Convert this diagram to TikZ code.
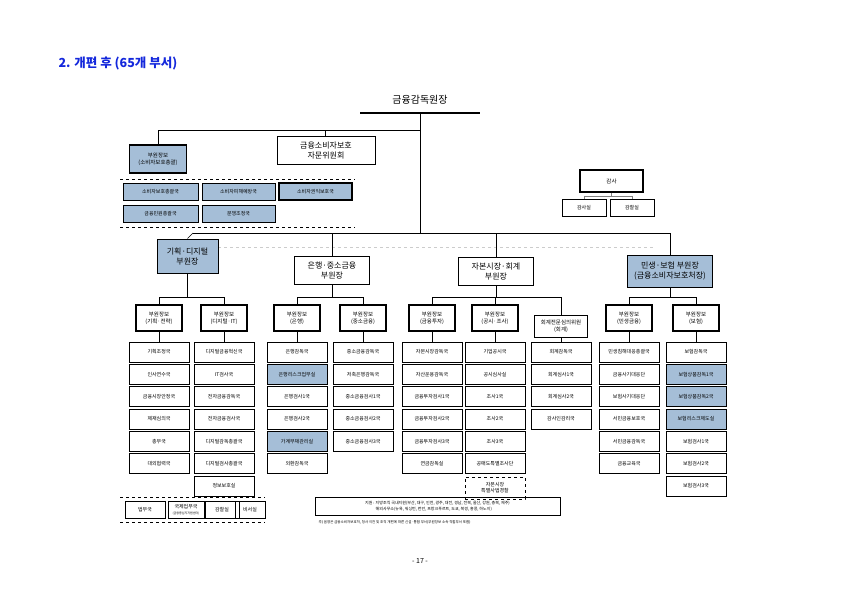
\documentclass[tikz,border=0pt]{standalone}
\usepackage{fontspec}
\setmainfont{Noto Sans CJK KR}
\usetikzlibrary{positioning}
\definecolor{fssblue}{RGB}{165,190,215}
\definecolor{titleblue}{RGB}{20,40,220}

\tikzset{
    dept/.style={draw, line width=0.5pt, minimum width=60pt, minimum height=20pt, inner sep=1pt, font=\fontsize{5}{6}\selectfont},
    hd/.style={draw, line width=1.3pt, minimum width=46pt, minimum height=26pt, inner sep=1pt, align=center, font=\fontsize{5.5}{7}\selectfont},
    dep/.style={draw, line width=0.4pt, minimum width=75pt, minimum height=28pt, inner sep=1pt, align=center, font=\fontsize{8}{10}\selectfont},
    blue/.style={fill=fssblue},
    small/.style={draw, line width=0.5pt, minimum height=17pt, inner sep=1pt, font=\fontsize{5}{6}\selectfont},
}

\begin{document}
\begin{tikzpicture}[x=1pt, y=-1pt, line width=0.6pt]
    \useasboundingbox (0,0) rectangle (841,595);

    \node[anchor=west, text=titleblue, font=\fontsize{12.5}{14}\selectfont\bfseries] (title) at (55,63) {2. 개편 후 (65개 부서)};

    % 원장
    \node[font=\fontsize{10}{12}\selectfont] (head) at (420,100) {금융감독원장};
    \draw[line width=1.5pt] (360,113) -- (480,113);
    \coordinate (hbot) at (420,113);
    \coordinate (hmid) at (420,130);
    \coordinate (hlow) at (420,233);
    \draw (hbot) -- (hlow);
    \draw (hmid) -- (158,130);
    \draw (325,130) -- (325,136);
    \draw (158,130) -- (158,145);

    \node[hd, blue, minimum width=57pt, minimum height=28pt] (cpb) at (158,159) {부원장보\\(소비자보호총괄)};
    \node[dep, minimum width=98pt] (cmt) at (326,150) {금융소비자보호\\자문위원회};

    \draw[dashed] (120,179) -- (355,179) (120,227) -- (355,227);
    \node[small, blue, minimum width=75pt] (c1) at (160.5,191.5) {소비자보호총괄국};
    \node[small, blue, minimum width=73pt] (c2) at (238.5,191.5) {소비자피해예방국};
    \node[small, blue, minimum width=73pt, line width=1.2pt] (c3) at (315.5,191.5) {소비자권익보호국};
    \node[small, blue, minimum width=75pt] (c4) at (160.5,213.5) {금융민원총괄국};
    \node[small, blue, minimum width=73pt] (c5) at (238.5,213.5) {분쟁조정국};

    % 감사
    \node[hd, minimum width=63pt, minimum height=22pt] (audit) at (611.5,181) {감사};
    \node[small, minimum width=44pt] (aud1) at (584,208) {감사실};
    \node[small, minimum width=44pt] (aud2) at (632,208) {감찰실};
    \draw[gray] (audit.south) -- (611.5,196) (584,196) -- (632,196) (584,196) -- (aud1.north) (632,196) -- (aud2.north);

    % 부원장
    \draw (193,233) -- (670,233);
    \draw[gray!40, dashed] (218,247) -- (655,247);
    \node[dep, blue, minimum width=61pt, minimum height=34pt, line width=1pt] (d1) at (187.5,256) {기획·디지털\\부원장};
    \node[dep, line width=0.8pt] (d2) at (332,270) {은행·중소금융\\부원장};
    \node[dep, line width=0.8pt] (d3) at (496,271) {자본시장·회계\\부원장};
    \node[dep, blue, minimum width=85pt, minimum height=32pt, line width=1pt] (d4) at (670,271) {민생·보험 부원장\\(금융소비자보호처장)};
    \draw (193,233) -- (d1.north);
    \draw (332,233) -- (d2.north);
    \draw (496,233) -- (d3.north);
    \draw (670,233) -- (d4.north);

    % 부원장보
    \node[hd] (p1) at (159,318) {부원장보\\(기획·전략)};
    \node[hd] (p2) at (224,318) {부원장보\\(디지털·IT)};
    \node[hd] (p3) at (297,318) {부원장보\\(은행)};
    \node[hd] (p4) at (363,318) {부원장보\\(중소금융)};
    \node[hd] (p5) at (432,318) {부원장보\\(금융투자)};
    \node[hd] (p6) at (495,318) {부원장보\\(공시·조사)};
    \node[hd, line width=0.8pt, minimum width=53pt, minimum height=22pt] (p7) at (561,326) {회계전문심의위원\\(회계)};
    \node[hd] (p8) at (629,318) {부원장보\\(민생금융)};
    \node[hd] (p9) at (696,318) {부원장보\\(보험)};

    \draw (d1.south) -- (187.5,297) (159,297) -- (224,297) (159,297) -- (p1.north) (224,297) -- (p2.north);
    \draw (d2.south) -- (332,297) (297,297) -- (363,297) (297,297) -- (p3.north) (363,297) -- (p4.north);
    \draw (d3.south) -- (496,297) (432,297) -- (561,297) (432,297) -- (p5.north) (495,297) -- (p6.north) (561,297) -- (p7.north);
    \draw (d4.south) -- (670,297) (629,297) -- (696,297) (629,297) -- (p8.north) (696,297) -- (p9.north);

    % 부서
    \foreach \col/\xx/\list in {
        1/159/{기획조정국,인사연수국,금융시장안정국,제재심의국,총무국,대외협력국},
        2/224/{디지털금융혁신국,IT검사국,전자금융감독국,전자금융검사국,디지털감독총괄국,디지털검사총괄국,정보보호실},
        3/297/{은행감독국,은행리스크업무실,은행검사1국,은행검사2국,가계부채관리실,외환감독국},
        4/363/{중소금융감독국,저축은행감독국,중소금융검사1국,중소금융검사2국,중소금융검사3국},
        5/432/{자본시장감독국,자산운용감독국,금융투자검사1국,금융투자검사2국,금융투자검사3국,연금감독실},
        6/495/{기업공시국,공시심사실,조사1국,조사2국,조사3국,공매도특별조사단},
        7/561/{회계감독국,회계심사1국,회계심사2국,감사인감리국},
        8/629/{민생침해대응총괄국,금융사기대응단,보험사기대응단,서민금융보호국,서민금융감독국,금융교육국},
        9/696/{보험감독국,보험상품감독1국,보험상품감독2국,보험리스크제도실,보험검사1국,보험검사2국,보험검사3국}}
    {
        \foreach \name [count=\r] in \list {
            \node[dept] (u\col-\r) at (\xx,{352+22.3*(\r-1)}) {\name};
        }
    }
    \foreach \n in {3-2,3-5,9-2,9-3,9-4} {
        \node[dept, blue] at (u\n) {};
    }
    \node[dept] at (u3-2) {은행리스크업무실};
    \node[dept] at (u3-5) {가계부채관리실};
    \node[dept] at (u9-2) {보험상품감독1국};
    \node[dept] at (u9-3) {보험상품감독2국};
    \node[dept] at (u9-4) {보험리스크제도실};

    \foreach \col/\top in {1/p1,2/p2,3/p3,4/p4,5/p5,6/p6,7/p7,8/p8,9/p9} {
        \draw (\top.south) -- (u\col-1.north);
    }
    \node[dept, dashed, minimum height=22pt, align=center] (u6-7) at (495,{352+22.3*6+2}) {자본시장\\특별사법경찰};

    % 하단
    \draw[dashed] (120,497) -- (265,497) (120,522) -- (265,522);
    \node[small, minimum width=40pt] (b1) at (145,509.5) {법무국};
    \node[small, minimum width=36pt, align=center] (b2) at (186,509.5) {국제업무국\\{\fontsize{3}{4}\selectfont (금융중심지지원센터)}};
    \node[small, minimum width=34pt] (b3) at (222,509.5) {감찰실};
    \node[small, minimum width=30pt] (b4) at (250,509.5) {비서실};

    \node[draw, minimum width=245pt, minimum height=18pt, align=left, font=\fontsize{4}{5.5}\selectfont] (note) at (437.5,506) {지원 : 지방조직 국내지원(부산, 대구, 인천, 광주, 대전, 경남, 전북, 울산, 강원, 충북, 제주)\\\phantom{지원 : }해외사무소(뉴욕, 워싱턴, 런던, 프랑크푸르트, 도쿄, 북경, 홍콩, 하노이)};
    \node[font=\fontsize{3.5}{4.5}\selectfont, anchor=west] (fn) at (315,522) {주) 음영은 금융소비자보호처, 청사 이전 및 조직 개편에 따른 신설·통합 부서(부원장보 소속 직할부서 포함)};

    \node[font=\fontsize{7}{8}\selectfont] (page) at (420,561) {- 17 -};
\end{tikzpicture}
\end{document}
